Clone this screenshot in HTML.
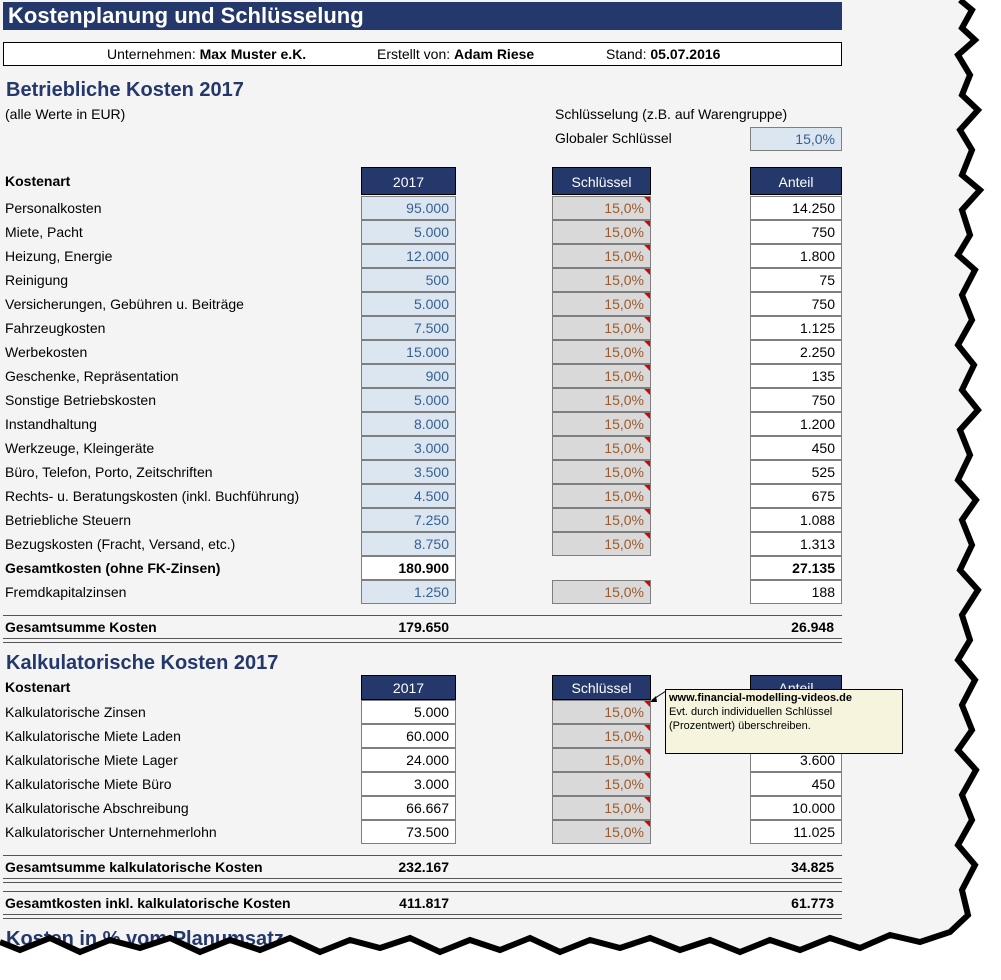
<!DOCTYPE html>
<html><head><meta charset="utf-8"><style>
body{margin:0;width:1001px;height:980px;background:#fff;position:relative;overflow:hidden;font-family:"Liberation Sans",Arial,sans-serif;font-size:14px;color:#000}
.sheet{position:absolute;left:0;top:0;width:1001px;height:980px;background:#f4f4f4}
.a{position:absolute;white-space:nowrap}
.c{position:absolute;box-sizing:border-box;border:1px solid #7f7f7f;height:24px;line-height:22px;text-align:right;padding-right:6px}
.v{background:#dce6f1;color:#376092}
.k{background:#d9d9d9;color:#9c5a2c}
.k:after{content:"";position:absolute;right:0;top:0;border-top:6px solid #e00000;border-left:6px solid transparent}
.w{background:#fff}
.h{background:#24386b;color:#fff;text-align:center;padding:0;height:28px;line-height:28px;border-color:#000}
.t{color:#24386b;font-weight:bold;font-size:20px}
.ln{position:absolute;left:3px;width:839px;border-top:1px solid #555}
.dl{position:absolute;left:3px;width:839px;height:3px;border-top:1px solid #555;border-bottom:1px solid #555}
</style></head><body><div class="sheet">
<div class="a" style="left:3px;top:2px;width:839px;height:28px;background:#24386b;color:#fff;font-weight:bold;font-size:22px;line-height:28px;padding-left:5px;box-sizing:border-box">Kostenplanung und Schlüsselung</div>
<div class="a" style="left:3px;top:42px;width:839px;height:24px;border:1px solid #000;box-sizing:border-box;background:#fff"></div>
<div class="a" style="left:107px;top:46px">Unternehmen: <b>Max Muster e.K.</b></div>
<div class="a" style="left:377px;top:46px">Erstellt von: <b>Adam Riese</b></div>
<div class="a" style="left:606px;top:46px">Stand: <b>05.07.2016</b></div>
<div class="a t" style="left:6px;top:79px">Betriebliche Kosten 2017</div>
<div class="a" style="left:5px;top:106px">(alle Werte in EUR)</div>
<div class="a" style="left:555px;top:106px">Schlüsselung (z.B. auf Warengruppe)</div>
<div class="a" style="left:555px;top:130px">Globaler Schlüssel</div>
<div class="c v" style="left:750px;top:127px;width:92px">15,0%</div>
<div class="a" style="left:5px;top:173px;font-weight:bold">Kostenart</div>
<div class="c h" style="left:361px;top:167px;width:95px">2017</div>
<div class="c h" style="left:552px;top:167px;width:99px">Schlüssel</div>
<div class="c h" style="left:750px;top:167px;width:92px">Anteil</div>
<div id="r1"></div>
<div class="ln" style="top:615px"></div>
<div class="a" style="left:5px;top:619px;font-weight:bold">Gesamtsumme Kosten</div>
<div class="a" style="left:361px;width:88px;text-align:right;top:619px;font-weight:bold">179.650</div>
<div class="a" style="left:750px;width:84px;text-align:right;top:619px;font-weight:bold">26.948</div>
<div class="dl" style="top:638px"></div>
<div class="a t" style="left:6px;top:652px">Kalkulatorische Kosten 2017</div>
<div class="a" style="left:5px;top:679px;font-weight:bold">Kostenart</div>
<div class="c h" style="left:361px;top:675px;width:95px;height:25px;line-height:25px">2017</div>
<div class="c h" style="left:552px;top:675px;width:99px;height:25px;line-height:25px">Schlüssel</div>
<div class="c h" style="left:750px;top:675px;width:92px;height:25px;line-height:25px">Anteil</div>
<div id="r2"></div>
<div class="ln" style="top:855px"></div>
<div class="a" style="left:5px;top:859px;font-weight:bold">Gesamtsumme kalkulatorische Kosten</div>
<div class="a" style="left:361px;width:88px;text-align:right;top:859px;font-weight:bold">232.167</div>
<div class="a" style="left:750px;width:84px;text-align:right;top:859px;font-weight:bold">34.825</div>
<div class="dl" style="top:878px"></div>
<div class="ln" style="top:891px"></div>
<div class="a" style="left:5px;top:895px;font-weight:bold">Gesamtkosten inkl. kalkulatorische Kosten</div>
<div class="a" style="left:361px;width:88px;text-align:right;top:895px;font-weight:bold">411.817</div>
<div class="a" style="left:750px;width:84px;text-align:right;top:895px;font-weight:bold">61.773</div>
<div class="dl" style="top:914px"></div>
<div class="a t" style="left:6px;top:928px">Kosten in % vom Planumsatz</div>
<div class="a" style="left:665px;top:689px;width:238px;height:65px;background:#f6f4dc;border:1px solid #000;box-sizing:border-box;font-size:11px;line-height:14px;padding:1px 3px;white-space:normal"><b>www.financial-modelling-videos.de</b><br>Evt. durch individuellen Schlüssel (Prozentwert) überschreiben.</div>
<svg class="a" style="left:640px;top:688px" width="30" height="20"><line x1="26" y1="3" x2="12" y2="12" stroke="#000"/><path d="M10 14 L16 8 L17 14Z" fill="#000"/></svg>
</div>
<svg class="a" style="left:0;top:0" width="1001" height="980">
<path id="edge" d="M960 0 L972 10 L962 28 L975 40 L958 55 L970 75 L962 95 L978 110 L960 130 L972 150 L962 175 L980 190 L962 210 L970 235 L958 255 L975 270 L962 295 L972 320 L958 345 L974 365 L962 390 L978 410 L960 430 L970 455 L958 480 L976 500 L962 520 L972 545 L960 570 L978 590 L962 615 L970 640 L958 660 L975 680 L962 705 L972 730 L958 750 L976 770 L962 795 L972 820 L958 845 L975 865 L962 890 L968 915 L950 932 L920 942 L890 935 L860 948 L830 938 L800 950 L770 940 L740 952 L710 940 L680 950 L650 938 L620 948 L590 940 L560 952 L530 938 L500 950 L470 940 L440 952 L410 938 L380 948 L350 940 L320 952 L290 938 L260 950 L230 940 L200 952 L170 938 L140 948 L110 940 L80 952 L50 938 L20 950 L0 942" fill="none"/>
<path d="M1001 0 L960 0 L972 10 L962 28 L975 40 L958 55 L970 75 L962 95 L978 110 L960 130 L972 150 L962 175 L980 190 L962 210 L970 235 L958 255 L975 270 L962 295 L972 320 L958 345 L974 365 L962 390 L978 410 L960 430 L970 455 L958 480 L976 500 L962 520 L972 545 L960 570 L978 590 L962 615 L970 640 L958 660 L975 680 L962 705 L972 730 L958 750 L976 770 L962 795 L972 820 L958 845 L975 865 L962 890 L968 915 L950 932 L920 942 L890 935 L860 948 L830 938 L800 950 L770 940 L740 952 L710 940 L680 950 L650 938 L620 948 L590 940 L560 952 L530 938 L500 950 L470 940 L440 952 L410 938 L380 948 L350 940 L320 952 L290 938 L260 950 L230 940 L200 952 L170 938 L140 948 L110 940 L80 952 L50 938 L20 950 L0 942 L0 980 L1001 980Z" fill="#fff"/>
<use href="#edge" stroke="#000" stroke-width="6"/>
</svg>
<script>
function rows(id,top,data,blueV){var s="";data.forEach(function(d,i){var y=top+i*24;
s+='<div class="a" style="left:5px;top:'+(y+4)+'px'+(d[3]?';font-weight:bold':'')+'">'+d[0]+'</div>';
if(d[3]){s+='<div class="c w" style="left:361px;top:'+y+'px;width:95px;font-weight:bold">'+d[1]+'</div><div class="c w" style="left:750px;top:'+y+'px;width:92px;font-weight:bold">'+d[2]+'</div>';}
else{s+='<div class="c '+(blueV?'v':'w')+'" style="left:361px;top:'+y+'px;width:95px">'+d[1]+'</div><div class="c k" style="left:552px;top:'+y+'px;width:99px">15,0%</div><div class="c w" style="left:750px;top:'+y+'px;width:92px">'+d[2]+'</div>';}
});document.getElementById(id).outerHTML=s;}
rows("r1",196,[["Personalkosten","95.000","14.250"],["Miete, Pacht","5.000","750"],["Heizung, Energie","12.000","1.800"],["Reinigung","500","75"],["Versicherungen, Gebühren u. Beiträge","5.000","750"],["Fahrzeugkosten","7.500","1.125"],["Werbekosten","15.000","2.250"],["Geschenke, Repräsentation","900","135"],["Sonstige Betriebskosten","5.000","750"],["Instandhaltung","8.000","1.200"],["Werkzeuge, Kleingeräte","3.000","450"],["Büro, Telefon, Porto, Zeitschriften","3.500","525"],["Rechts- u. Beratungskosten (inkl. Buchführung)","4.500","675"],["Betriebliche Steuern","7.250","1.088"],["Bezugskosten (Fracht, Versand, etc.)","8.750","1.313"],["Gesamtkosten (ohne FK-Zinsen)","180.900","27.135",1],["Fremdkapitalzinsen","1.250","188"]],true);
rows("r2",700,[["Kalkulatorische Zinsen","5.000","750"],["Kalkulatorische Miete Laden","60.000","9.000"],["Kalkulatorische Miete Lager","24.000","3.600"],["Kalkulatorische Miete Büro","3.000","450"],["Kalkulatorische Abschreibung","66.667","10.000"],["Kalkulatorischer Unternehmerlohn","73.500","11.025"]],false);
</script>
</body></html>
